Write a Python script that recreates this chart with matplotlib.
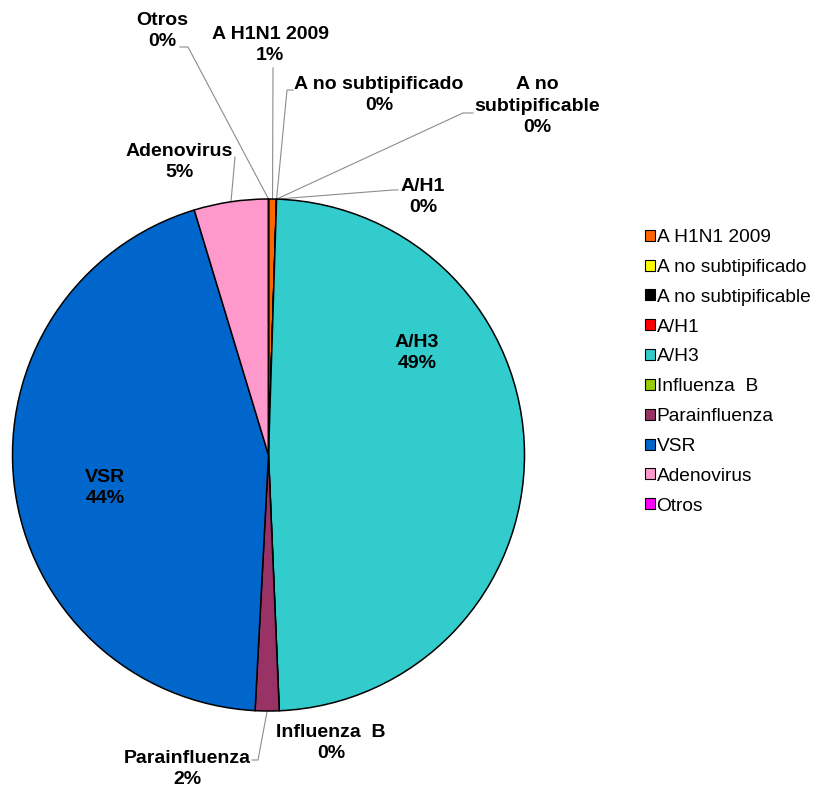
import numpy as np
import matplotlib
matplotlib.use('Agg')
import matplotlib.pyplot as plt
from matplotlib.patches import Patch

plt.rcParams['font.family'] = ['Liberation Sans', 'DejaVu Sans']

# Virus detections by type (counts)
virus = ['A H1N1 2009', 'A no subtipificado', 'A no subtipificable', 'A/H1',
         'A/H3', 'Influenza  B', 'Parainfluenza', 'VSR', 'Adenovirus', 'Otros']
counts = [3, 0, 0, 0, 292, 0, 9, 266, 28, 0]
colors = ['#FF6600', '#FFFF00', '#000000', '#FF0000', '#33CCCC',
          '#99CC00', '#993366', '#0066CC', '#FF99CC', '#FF00FF']

W, H = 813, 789
fig = plt.figure(figsize=(W / 100, H / 100), dpi=100)
ax = fig.add_axes([0, 0, 1, 1])

cx, cy, r = 268.5, H - 455, 256
wedges, _ = ax.pie(counts, colors=colors, startangle=90, counterclock=False,
                   center=(cx, cy), radius=r,
                   wedgeprops=dict(edgecolor='black', linewidth=1.1))

total = sum(counts)
pct = ['%d%%' % int(100.0 * c / total + 0.5) for c in counts]

# label placement (pixel coords, y from top): text centre, leader elbow or None
label_pos = {
    'A H1N1 2009':         ((270, 45),  [(273, 68)]),
    'A no subtipificado':  ((379, 95),  [(293, 90), (287, 90)]),
    'A no subtipificable': ((537, 106), [(473, 113), (463, 113)]),
    'A/H1':                ((423, 197), [(398, 190), (393, 190)]),
    'A/H3':                ((417, 353), None),
    'Influenza  B':        ((331, 743), None),
    'Parainfluenza':       ((187, 769), [(252, 760), (258, 760)]),
    'VSR':                 ((105, 488), None),
    'Adenovirus':          ((179, 162), [(235, 157)]),
    'Otros':               ((162, 31),  [(180, 47), (188, 47)]),
}
label_text = {'A no subtipificable': 'A no\nsubtipificable'}

for w, name, p in zip(wedges, virus, pct):
    (tx, ty), elbow = label_pos[name]
    txt = label_text.get(name, name) + '\n' + p
    ax.text(tx, H - ty, txt, ha='center', va='center', fontsize=14,
            fontweight='bold', linespacing=1.35, color='black')
    if elbow:
        a = np.deg2rad((w.theta1 + w.theta2) / 2)
        ax_, ay_ = cx + r * np.cos(a), cy + r * np.sin(a)
        xs = [e[0] for e in elbow] + [ax_]
        ys = [H - e[1] for e in elbow] + [ay_]
        ax.plot(xs, ys, color='#8c8c8c', linewidth=0.8, zorder=0.5)

handles = [Patch(facecolor=c, edgecolor='black', linewidth=0.8) for c in colors]
ax.legend(handles, virus, loc='upper left', bbox_to_anchor=(645 / W, 1 - 229 / H),
          frameon=False, fontsize=13.8, handlelength=0.5, handleheight=0.5,
          handletextpad=0.1, labelspacing=0.67, borderpad=0, borderaxespad=0)

ax.set_xlim(0, W)
ax.set_ylim(0, H)
ax.set_aspect('equal')
ax.axis('off')

fig.savefig('out.png', dpi=100)
